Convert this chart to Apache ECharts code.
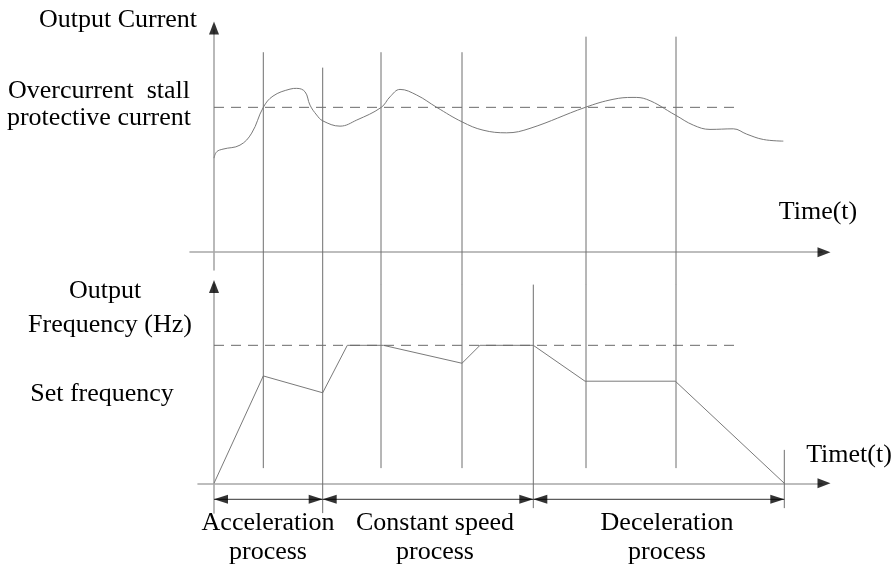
<!DOCTYPE html>
<html>
<head>
<meta charset="utf-8">
<script src="https://cdn.jsdelivr.net/npm/echarts@6/dist/echarts.min.js"></script>
<style>
html,body{margin:0;padding:0;background:#fff;}
#chart{width:896px;height:570px;}
</style>
</head>
<body>
<div id="chart"></div>
<script>
// ---- Data (time in arbitrary units, current in % of rated, frequency in Hz) ----
const currentTime = [0, 0.27, 0.9, 2.6, 3.77, 4.93, 5.9, 7.6, 8.27, 9.1, 9.6, 10.27, 10.87, 12.6, 14.27, 16.73, 17.6, 18.6, 20.27, 22.27, 24.8, 26.9, 29.27, 31.6, 37.13, 39.9, 41.9, 43.27, 46.13, 47.93, 49.6, 51.93, 53.27, 54.93, 56.93];
const currentValue = [63.5, 67.8, 69.6, 72.3, 80.4, 97.8, 105.4, 110.1, 110.6, 108.3, 99.3, 92.6, 88.7, 85.1, 89.2, 97.8, 104.9, 109.9, 106.1, 97.8, 88.0, 82.4, 80.6, 83.6, 97.8, 103.2, 104.5, 103.2, 92.6, 85.8, 82.9, 83.3, 79.7, 76.1, 75.0];
const stallCurrent = 97.8;
const stallLineEnd = 52.1;

const freqTime = [0, 4.93, 10.87, 13.33, 16.93, 24.8, 26.6, 31.93, 37.1, 46.13, 57.03];
const freqValue = [0, 38.9, 32.8, 50, 50, 43.5, 50, 50, 37.0, 37.0, 0];
const setFrequency = 50;

// vertical process markers crossing both panels
const markerTime = [4.93, 10.87, 16.7, 24.8, 37.2, 46.2];
const markerTopCurrent = [135, 124.6, 135, 135, 145.5, 145.5];
const markerBottomFreq = [5.5, -10.8, 5.5, 5.5, 5.5, 5.5];
// markers only in the lower panel
const lowerMarkerTime = [31.93, 57.03];
const lowerMarkerTop = [72, 12.1];
const lowerMarkerBottom = [-9, -9];

// process spans (start, end) and labels
const processSpans = [[0, 10.87], [10.87, 31.93], [31.93, 57.03]];
const processLabels = [['Acceleration', 'process'], ['Constant speed', 'process'], ['Deceleration', 'process']];

// ---- axis ranges ----
const upperX = {min: -2.4, max: 60.8};
const upperY = {min: -12, max: 150};
const lowerX = {min: -1.6, max: 60.8};
const lowerY = {min: -10.8, max: 72};
const spanLevel = -5.8;

const FONT = '"Liberation Serif", "Times New Roman", serif';
const axisGray = '#a8a8a8';
const lineGray = '#6e6e6e';

function axisX(idx, r) {
  return {type: 'value', gridIndex: idx, min: r.min, max: r.max,
    axisLine: {show: true, onZero: true, lineStyle: {color: axisGray, width: 1.6}},
    axisTick: {show: false}, axisLabel: {show: false}, splitLine: {show: false}};
}
function axisY(idx, r) {
  return {type: 'value', gridIndex: idx, min: r.min, max: r.max,
    axisLine: {show: true, onZero: true, lineStyle: {color: axisGray, width: 1.6}},
    axisTick: {show: false}, axisLabel: {show: false}, splitLine: {show: false}};
}

const series = [];
function seg(xi, yi, pts, color, width, type) {
  series.push({type: 'line', xAxisIndex: xi, yAxisIndex: yi, data: pts, symbol: 'none',
    clip: false, silent: true, animation: false,
    lineStyle: {color: color, width: width, type: type || 'solid'}});
}

// upper panel: current curve
series.push({type: 'line', xAxisIndex: 0, yAxisIndex: 0, symbol: 'none', smooth: 0.4,
  silent: true, animation: false, lineStyle: {color: '#7a7a7a', width: 1},
  data: currentTime.map((t, i) => [t, currentValue[i]])});
seg(0, 0, [[0, stallCurrent], [stallLineEnd, stallCurrent]], '#6a6a6a', 1, [10, 7]);

// lower panel: frequency polyline
series.push({type: 'line', xAxisIndex: 1, yAxisIndex: 1, symbol: 'none',
  silent: true, animation: false, lineStyle: {color: '#7a7a7a', width: 1},
  data: freqTime.map((t, i) => [t, freqValue[i]])});
seg(1, 1, [[0, setFrequency], [stallLineEnd, setFrequency]], '#6a6a6a', 1, [10, 7]);

// vertical markers
markerTime.forEach((t, i) => {
  seg(0, 0, [[t, markerTopCurrent[i]], [t, upperY.min - 10]], lineGray, 1);
  seg(1, 1, [[t, lowerY.max], [t, markerBottomFreq[i]]], lineGray, 1);
});
lowerMarkerTime.forEach((t, i) => {
  seg(1, 1, [[t, lowerMarkerTop[i]], [t, lowerMarkerBottom[i]]], lineGray, 1);
});

// arrows (black triangles)
function arrow(xi, yi, pts, rot, off, size) {
  series.push({type: 'scatter', xAxisIndex: xi, yAxisIndex: yi, data: pts, symbol: 'triangle',
    symbolSize: size || [10, 13], symbolRotate: rot, symbolOffset: off, clip: false, silent: true, animation: false,
    itemStyle: {color: '#000'}, z: 5});
}

// process span dimension lines with inward arrowheads
processSpans.forEach(s => {
  seg(1, 1, [[s[0], spanLevel], [s[1], spanLevel]], '#333', 1);
});
arrow(1, 1, processSpans.map(s => [s[0], spanLevel]), 90, [7, 0], [9, 14]);
arrow(1, 1, processSpans.map(s => [s[1], spanLevel]), -90, [-7, 0], [9, 14]);

// axis arrows
arrow(0, 0, [[upperX.max, 0]], -90, [2, 0]);
arrow(0, 0, [[0, upperY.max]], 0, [0, -2]);
arrow(1, 1, [[lowerX.max, 0]], -90, [2, 0]);
arrow(1, 1, [[0, lowerY.max]], 0, [0, 2]);

function txt(text, x, y) {
  return {type: 'text', x: x, y: y, silent: true,
    style: {text: text, font: '26px ' + FONT, fill: '#000',
      align: 'center', verticalAlign: 'middle', textAlign: 'center', textVerticalAlign: 'middle'}};
}
const graphics = [
  txt('Output Current', 118, 20),
  txt('Overcurrent  stall', 99, 91),
  txt('protective current', 99, 118),
  txt('Time(t)', 818, 212),
  txt('Output', 105, 291),
  txt('Frequency (Hz)', 110, 325),
  txt('Set frequency', 102, 394),
  txt('Timet(t)', 849, 455),
];
const spanCenters = [268, 435, 667];
processLabels.forEach((lab, i) => {
  graphics.push(txt(lab[0], spanCenters[i], 523));
  graphics.push(txt(lab[1], spanCenters[i], 552));
});

const chart = echarts.init(document.getElementById('chart'), null, {renderer: 'canvas'});
chart.setOption({
  animation: false,
  backgroundColor: '#fff',
  grid: [
    {left: 190, width: 632, top: 30, height: 240},
    {left: 198, width: 624, top: 284.6, height: 228.5}
  ],
  xAxis: [axisX(0, upperX), axisX(1, lowerX)],
  yAxis: [axisY(0, upperY), axisY(1, lowerY)],
  series: series,
  graphic: graphics
});
</script>
</body>
</html>
